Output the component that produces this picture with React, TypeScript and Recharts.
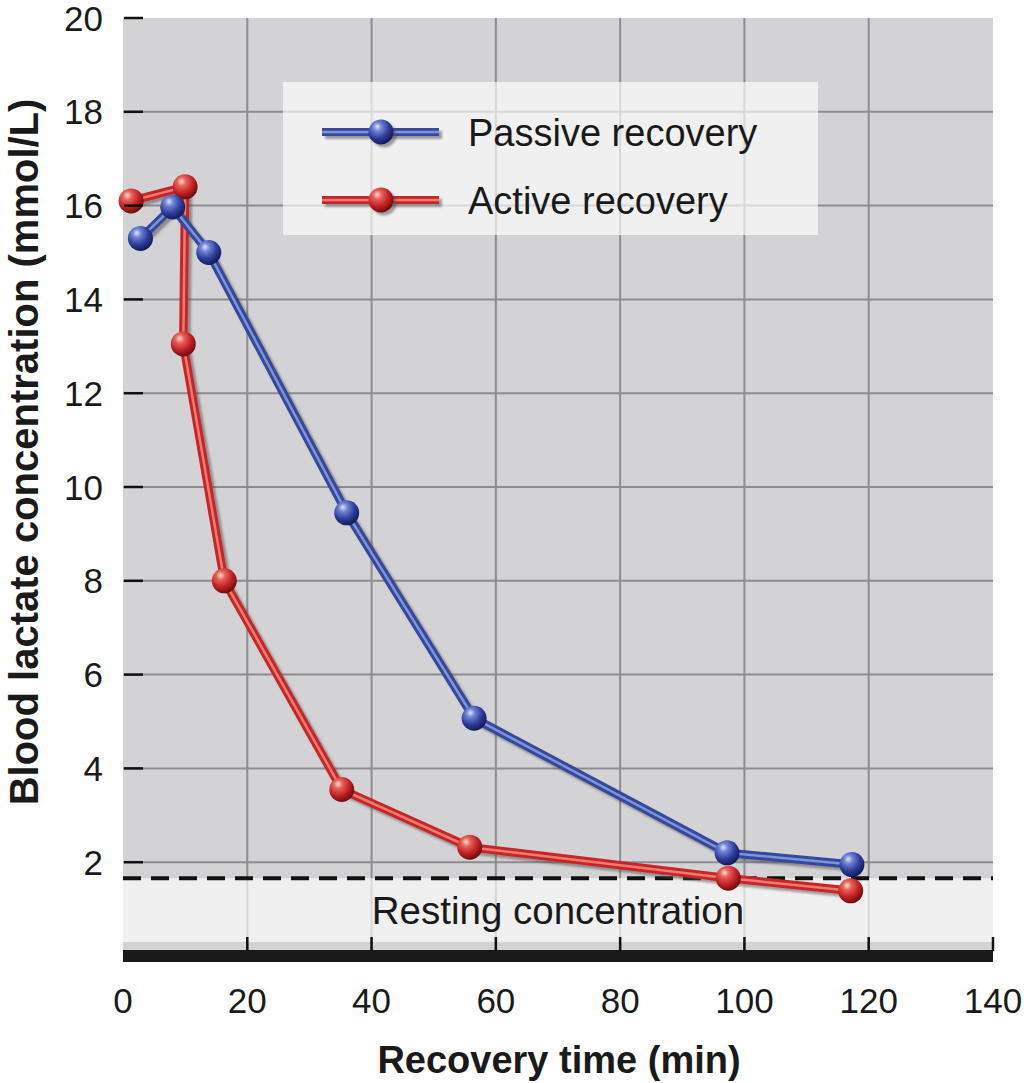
import { LineChart, Line, XAxis, YAxis, CartesianGrid, ReferenceArea, ReferenceLine, Legend, Label } from 'recharts';

const passiveTime = [2.8, 8, 13.8, 36, 56.5, 97.2, 117.3];
const passiveLactate = [15.3, 15.97, 15.0, 9.45, 5.07, 2.2, 1.95];

const activeTime = [1.3, 10, 9.7, 16.3, 35.2, 55.8, 97.4, 117.1];
const activeLactate = [16.1, 16.4, 13.05, 8.0, 3.55, 2.32, 1.66, 1.39];

const xTicks = [0, 20, 40, 60, 80, 100, 120, 140];
const yTicks = [2, 4, 6, 8, 10, 12, 14, 16, 18, 20];
const gridX = [20, 40, 60, 80, 100, 120];
const gridY = [2, 4, 6, 8, 10, 12, 14, 16, 18];

const restingLevel = 1.66;
const restingFloor = 0.3;

const passiveData = passiveTime.map((x, i) => ({ x, y: passiveLactate[i] }));
const activeData = activeTime.map((x, i) => ({ x, y: activeLactate[i] }));

const font = '"Liberation Sans", Arial, Helvetica, sans-serif';

const series = [
  { name: 'Passive recovery', data: passiveData, dark: '#34499c', light: '#7f93da', ball: 'ballBlue' },
  { name: 'Active recovery', data: activeData, dark: '#c4262b', light: '#f27a6c', ball: 'ballRed' },
];

function Ball(props: any) {
  const { cx, cy, index, fillId } = props;
  if (cx == null || cy == null) return null;
  return <circle key={index} cx={cx} cy={cy} r={12.5} fill={`url(#${fillId})`} />;
}

function XTick({ x, y, payload }: any) {
  return (
    <g>
      {payload.value > 0 && <line x1={x} x2={x} y1={y - 19} y2={y - 5} stroke="#111" strokeWidth={2.5} />}
      <text x={x} y={y + 57} textAnchor="middle" fontSize={35} fontFamily={font} fill="#1a1a1a">{payload.value}</text>
    </g>
  );
}

function YTick({ x, y, payload }: any) {
  return (
    <g>
      <line x1={x + 1} x2={x + 20} y1={y} y2={y} stroke="#111" strokeWidth={2.5} />
      <text x={x - 20} y={y + 12.5} textAnchor="end" fontSize={35} fontFamily={font} fill="#1a1a1a">{payload.value}</text>
    </g>
  );
}

function LegendBox() {
  // passive first, as in the figure
  return (
    <svg width={535} height={153} style={{ display: 'block' }}>
      <rect x={0} y={0} width={535} height={153} fill="#ffffff" fillOpacity={0.66} />
      {series.map((s, i) => {
        const cy = 50 + i * 68;
        return (
          <g key={s.name}>
            <rect x={39} y={cy - 4} width={117} height={8} fill={s.dark} filter="url(#drop)" />
            <rect x={39} y={cy - 1.2} width={117} height={2.5} fill={s.light} />
            <circle cx={98} cy={cy} r={12.5} fill={`url(#${s.ball})`} filter="url(#drop)" />
            <text x={185} y={cy + 13.5} fontSize={38} fontFamily={font} fill="#1a1a1a">{s.name}</text>
          </g>
        );
      })}
    </svg>
  );
}

function YTitle() {
  return (
    <text x={38} y={452} transform="rotate(-90 38 452)" textAnchor="middle" fontSize={40} fontWeight="bold" fontFamily={font} fill="#1a1a1a">
      Blood lactate concentration (mmol/L)
    </text>
  );
}

function XTitle() {
  return (
    <text x={559} y={1073} textAnchor="middle" fontSize={38} fontWeight="bold" fontFamily={font} fill="#1a1a1a">
      Recovery time (min)
    </text>
  );
}

export default function App() {
  const drawOrder = [series[1], series[0]];
  return (
    <div style={{ position: 'absolute', left: 0, top: 0, width: 1024, height: 1083, background: '#fff' }}>
      <style>{`.sh { filter: url(#drop); }`}</style>
      <svg width={0} height={0} style={{ position: 'absolute' }}>
        <defs>
          <filter id="drop" x="-30%" y="-60%" width="160%" height="220%">
            <feDropShadow dx="3" dy="3" stdDeviation="1.3" floodColor="#444" floodOpacity="0.5" />
          </filter>
          <radialGradient id="ballBlue" cx="38%" cy="32%" r="70%" fx="35%" fy="28%">
            <stop offset="0%" stopColor="#dfe5ff" />
            <stop offset="25%" stopColor="#7083d4" />
            <stop offset="65%" stopColor="#2b3b98" />
            <stop offset="100%" stopColor="#111a55" />
          </radialGradient>
          <radialGradient id="ballRed" cx="38%" cy="32%" r="70%" fx="35%" fy="28%">
            <stop offset="0%" stopColor="#ffe0d0" />
            <stop offset="25%" stopColor="#e8625a" />
            <stop offset="65%" stopColor="#c02024" />
            <stop offset="100%" stopColor="#6a0c0c" />
          </radialGradient>
        </defs>
      </svg>
      <LineChart width={1024} height={1083} margin={{ top: 18, right: 31, bottom: 0, left: 0 }}>
        <CartesianGrid
          fill="#d3d3d5"
          stroke="#8d8d8f"
          strokeWidth={2}
          verticalValues={gridX}
          horizontalValues={gridY}
        />
        <XAxis
          dataKey="x"
          type="number"
          domain={[0, 140]}
          ticks={xTicks}
          height={127}
          tickSize={0}
          tickMargin={0}
          tickLine={false}
          axisLine={{ stroke: '#1a1a1a', strokeWidth: 12 }}
          tick={<XTick />}
          interval={0}
        >
          <Label content={<XTitle />} />
        </XAxis>
        <YAxis
          dataKey="y"
          type="number"
          domain={[0, 20]}
          ticks={yTicks}
          width={123}
          tickSize={0}
          tickMargin={0}
          tickLine={false}
          axisLine={false}
          tick={<YTick />}
          interval={0}
        >
          <Label content={<YTitle />} />
        </YAxis>
        <ReferenceArea
          y1={restingFloor}
          y2={restingLevel}
          fill="#ffffff"
          fillOpacity={0.66}
          stroke="none"
          label={{ value: 'Resting concentration', position: 'center', fontSize: 38.5, fontFamily: font, fill: '#1a1a1a' }}
        />
        <ReferenceLine y={restingLevel} stroke="#111" strokeWidth={4} strokeDasharray="18 10" />
        {drawOrder.map(s => [
          <Line
            key={s.name + '-edge'}
            className="sh"
            data={s.data}
            dataKey="y"
            type="linear"
            stroke={s.dark}
            strokeWidth={8.5}
            dot={false}
            activeDot={false}
            legendType="none"
            isAnimationActive={false}
          />,
          <Line
            key={s.name + '-core'}
            data={s.data}
            dataKey="y"
            type="linear"
            stroke={s.light}
            strokeWidth={2.5}
            dot={false}
            activeDot={false}
            legendType="none"
            isAnimationActive={false}
          />,
          <Line
            key={s.name + '-dots'}
            className="sh"
            name={s.name}
            data={s.data}
            dataKey="y"
            type="linear"
            stroke="none"
            dot={(p: any) => <Ball {...p} key={p.index} fillId={s.ball} />}
            activeDot={false}
            isAnimationActive={false}
          />,
        ])}
        <Legend
          layout="horizontal"
          verticalAlign="middle"
          align="center"
          wrapperStyle={{ left: 283, top: 82, width: 535, height: 153 }}
          content={() => <LegendBox />}
        />
      </LineChart>
    </div>
  );
}
